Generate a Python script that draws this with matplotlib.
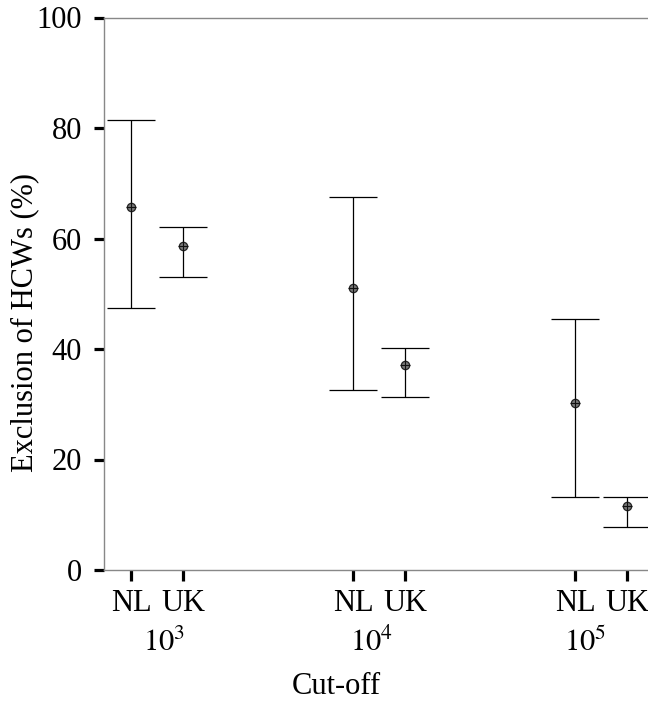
import matplotlib
matplotlib.use('Agg')
import matplotlib.pyplot as plt
import numpy as np
from matplotlib.transforms import blended_transform_factory

plt.rcParams['font.family'] = ['Liberation Serif', 'DejaVu Serif']
plt.rcParams['mathtext.fontset'] = 'stix'

# data
cutoffs = ['$10^3$', '$10^4$', '$10^5$']
countries = ['NL', 'UK']
nl_mean = [65.7, 51.1, 30.3]
nl_low = [47.5, 32.5, 13.2]
nl_high = [81.4, 67.5, 45.4]
uk_mean = [58.7, 37.1, 11.6]
uk_low = [53.0, 31.4, 7.7]
uk_high = [62.1, 40.2, 13.2]

fig = plt.figure(figsize=(6.48, 7.02), dpi=100)
ax = fig.add_axes([104 / 648, 1 - 570 / 702, 1 - 104 / 648, (570 - 17.5) / 702])

groups = np.arange(len(cutoffs))
off = 0.117
x_nl = groups - off
x_uk = groups + off


def draw(x, mean, low, high):
    mean = np.array(mean)
    yerr = [mean - np.array(low), np.array(high) - mean]
    ax.errorbar(x, mean, yerr=yerr, fmt='none', ecolor='black', elinewidth=0.9,
                capsize=17.5, capthick=0.9)
    ax.plot(x, mean, linestyle='none', marker='o', markersize=6,
            markerfacecolor='#777777', markeredgecolor='#222222', markeredgewidth=0.9)
    ax.plot(x, mean, linestyle='none', marker='+', markersize=7,
            markeredgecolor='#111111', markeredgewidth=0.8)


draw(x_nl, nl_mean, nl_low, nl_high)
draw(x_uk, uk_mean, uk_low, uk_high)

ax.set_xlim(-0.239, 2.212)
ax.set_ylim(0, 100)

xt = np.sort(np.concatenate([x_nl, x_uk]))
ax.set_xticks(xt)
ax.set_xticklabels(countries * len(cutoffs), fontsize=22)
ax.set_yticks(np.arange(0, 101, 20))
ax.tick_params(axis='y', labelsize=22, length=7, width=2.3, pad=9, direction='out')
ax.tick_params(axis='x', length=8, width=2.3, pad=6, direction='out')

for s in ['left', 'top', 'bottom']:
    ax.spines[s].set_color('#888888')
    ax.spines[s].set_linewidth(1.0)
ax.spines['right'].set_visible(False)

trans = blended_transform_factory(ax.transData, ax.transAxes)
label_x = [164.5, 371.5, 585]
for px, lab in zip(label_x, cutoffs):
    xd = (px - 157) / 222
    ax.text(xd, -0.132, lab, transform=trans, ha='center', va='center', fontsize=22)

fig.text(336 / 648, 1 - 686 / 702, 'Cut-off', ha='center', va='center', fontsize=22)
fig.text(25 / 648, 1 - 322 / 702, 'Exclusion of HCWs (%)', ha='center', va='center',
         rotation=90, fontsize=22)

fig.savefig('out.png', dpi=100)
